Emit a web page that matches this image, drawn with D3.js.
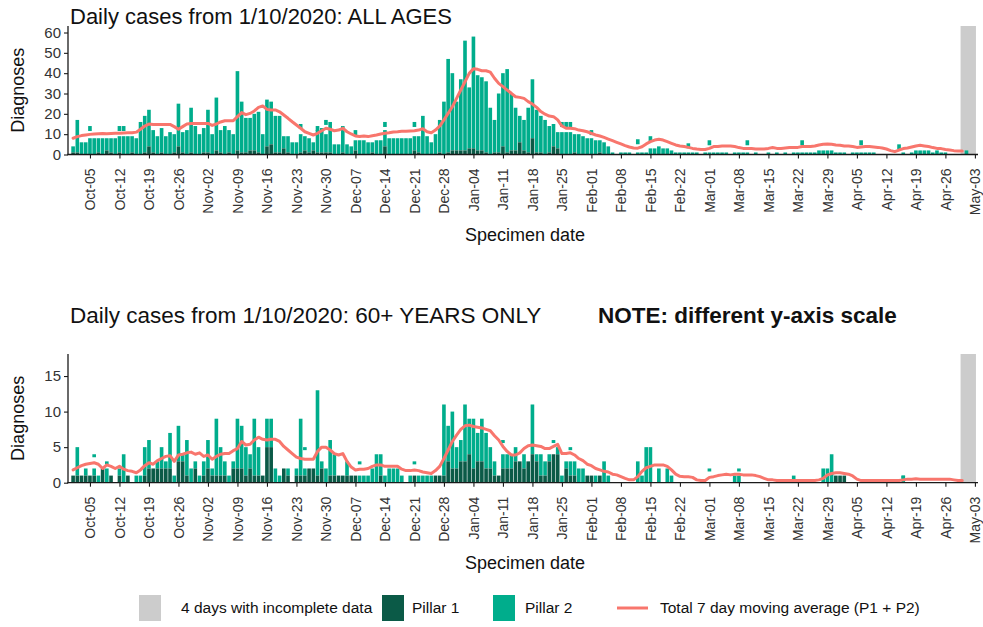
<!DOCTYPE html>
<html>
<head>
<meta charset="utf-8">
<script src="https://cdn.jsdelivr.net/npm/d3@7"></script>
<style>
  body { margin: 0; background: #fff; }
  text { font-family: "Liberation Sans", Arial, sans-serif; }
</style>
</head>
<body>
<div id="chart"></div>
<script>
// ---- data: one value per day starting 1 Oct 2020 ----
var firstDay = new Date(Date.UTC(2020, 9, 1));

// ALL AGES: Pillar 1 and total (Pillar 1 + Pillar 2)
var allP1 = [
  1,1,0,0,0,0,1,0,2,1,0,1,0,0,1,0,0,1,4,1,0,1,0,0,1,4,1,0,1,0,0,
  1,1,0,2,1,0,1,0,2,1,1,2,2,1,0,4,5,1,1,3,1,0,0,1,2,1,2,1,1,1,
  1,0,0,1,0,0,2,0,0,0,1,0,0,4,0,0,0,0,0,0,2,1,0,0,0,0,1,0,1,2,2,
  2,2,3,3,2,2,1,0,1,1,4,1,2,2,6,2,1,8,1,1,0,1,4,3,0,0,0,1,0,0,0,
  0,0,1,0,0,0,0,0,0,0,0,0,0,0,0,0,0,0,0,0,0,0,0,0,0,0,0,0,
  0,0,0,0,0,0,0,0,0,0,0,0,0,0,0,0,0,0,0,0,0,0,0,0,0,0,0,0,0,0,0,
  0,0,0,0,0,0,0,0,0,0,0,0,0,0,0,0,0,0,0,0,0,0,0,0,0,0,0,0,0,0,
  0
];
var allTotal = [
  4,17,6,6,8,8,8,8,8,8,8,9,9,9,9,8,16,19,22,12,9,13,9,11,10,25,11,12,23,14,10,
  13,22,10,28,12,14,12,10,41,26,18,18,20,21,10,27,26,19,19,9,9,6,6,10,9,8,6,12,13,10,
  16,5,5,14,5,4,7,7,7,6,6,7,7,12,8,8,8,8,8,8,9,9,19,9,6,10,17,26,47,40,26,
  37,56,33,58,39,38,36,23,17,30,40,42,30,23,19,17,23,37,22,19,17,14,15,11,11,11,11,10,10,9,8,
  8,7,7,6,4,1,0,1,1,1,0,1,1,1,3,3,4,3,3,2,1,1,1,1,1,1,0,1,
  1,1,1,1,1,0,1,1,1,1,0,1,0,0,1,0,1,0,1,0,1,1,1,1,1,1,2,2,2,2,1,
  1,1,0,1,1,1,1,1,1,0,0,0,0,0,0,1,0,1,2,2,2,2,1,2,1,1,0,0,0,0,
  2
];
var allMA = [
  8.0,8.8,9.3,9.6,9.9,10.1,10.2,10.3,10.2,10.3,10.4,10.4,10.6,10.7,10.7,11.0,12.4,14.0,15.0,14.8,14.8,14.8,14.8,14.8,13.7,12.4,13.7,15.0,15.3,15.3,15.3,
  15.3,15.3,14.3,15.0,16.0,16.6,16.6,16.6,18.6,20.6,19.6,20.2,21.4,23.2,23.9,22.2,21.9,21.9,21.0,19.4,17.8,16.1,14.5,12.9,11.2,10.4,9.6,10.4,11.7,12.9,
  12.4,11.7,12.0,12.9,11.2,10.1,9.1,8.8,9.1,8.8,9.2,9.6,10.1,10.4,10.7,11.1,11.2,11.4,11.4,11.6,11.7,12.0,12.7,11.2,10.7,12.0,14.0,17.0,20.2,23.5,27.6,
  31.7,35.8,39.9,42.2,41.9,41.2,41.2,40.5,37.5,35.0,33.4,31.7,30.1,28.4,28.1,27.6,26.0,24.8,23.2,21.1,19.8,18.9,18.6,17.0,14.0,12.9,12.9,12.7,12.0,11.7,11.2,
  10.4,9.6,9.1,8.4,7.6,6.8,6.0,5.2,4.4,3.7,3.2,3.1,3.8,5.2,6.3,7.1,7.5,7.1,6.3,5.5,4.7,4.2,3.9,3.5,3.0,2.7,2.5,2.5,
  3.0,3.9,3.9,4.2,4.2,4.2,3.9,3.4,3.0,3.0,2.9,2.7,2.7,2.7,3.0,3.4,3.0,3.0,3.2,3.4,3.4,3.5,3.9,3.9,3.9,4.2,4.7,5.0,5.2,5.0,4.7,
  4.5,4.2,4.2,3.9,3.5,3.7,3.9,3.9,3.7,3.5,3.2,2.7,1.9,1.4,2.2,2.9,3.2,3.7,4.2,4.5,4.2,3.9,3.4,3.0,2.9,2.5,2.2,1.9,1.7,1.7
];
var allUpper = [
  ['2020-10-05',14],['2020-10-12',14],['2020-10-13',14],['2020-11-24',15],['2020-11-28',14],
  ['2020-11-30',17],['2020-12-07',12],['2020-12-14',16],['2020-12-21',16],['2021-01-25',16],
  ['2021-01-26',16],['2021-01-27',16],['2021-02-01',12],['2021-02-12',7.5],['2021-02-15',9],
  ['2021-02-24',5.5],['2021-03-01',7],['2021-03-10',7],['2021-03-23',7],['2021-04-06',7],['2021-04-15',5]
];

// 60+ YEARS ONLY
var oldP1 = [
  1,1,1,1,1,1,0,2,0,1,0,1,0,1,0,0,0,1,2,2,2,2,2,2,0,3,3,1,0,2,0,
  1,2,1,1,1,1,0,2,2,2,1,2,1,1,1,5,5,0,0,2,1,0,1,1,1,2,2,1,2,0,
  1,1,1,1,1,1,1,0,0,0,0,0,1,0,0,0,0,0,0,0,1,0,0,0,0,1,1,1,3,2,2,
  3,3,4,2,3,3,2,2,1,1,2,2,2,3,3,2,3,4,3,1,1,3,4,4,0,2,1,1,0,0,1,
  1,0,1,0,0,0,0,0,0,0,0,0,0,0,0,0,0,0,0,0,0,0,0,0,0,0,0,0,
  0,0,0,0,0,0,0,0,0,0,0,0,0,0,0,0,0,0,0,0,0,0,0,0,0,0,0,0,0,0,1,
  1,1,0,0,0,0,0,0,0,0,0,0,0,0,0,0,0,0,0,0,0,0,0,0,0,0,0,0,0,0,
  0
];
var oldTotal = [
  1,5,1,2,1,2,1,2,2,1,0,2,4,1,0,1,1,5,6,2,3,5,3,7,1,8,4,6,2,3,1,
  3,6,2,9,5,3,1,3,9,8,5,4,9,5,1,9,9,2,1,2,2,0,2,9,2,2,2,13,3,2,
  6,4,1,1,3,1,1,1,1,1,2,4,4,1,2,2,2,1,0,1,1,1,1,1,1,1,1,11,8,10,5,
  6,11,9,9,7,9,7,5,3,1,4,4,4,5,3,4,3,11,4,4,3,4,4,5,1,3,3,3,2,2,1,
  1,1,1,3,1,0,0,0,0,0,0,3,1,5,5,0,2,0,2,1,0,0,0,0,0,0,0,0,
  0,0,0,0,0,0,1,1,0,0,0,0,0,0,0,0,0,0,0,0,1,0,0,0,0,0,0,2,2,4,1,
  1,1,0,0,0,0,0,0,0,0,0,0,0,0,0,1,0,0,0,0,0,0,0,0,0,0,0,0,0,0,
  0
];
var oldMA = [
  1.8,2.1,2.4,2.6,2.7,2.8,2.6,2.0,2.5,2.3,2.0,2.3,1.9,1.7,1.6,1.4,1.8,2.4,2.8,2.6,3.1,3.4,3.7,3.8,3.0,3.9,4.0,4.2,4.3,4.0,4.2,
  3.7,3.9,3.3,3.7,4.0,4.1,4.1,4.5,4.8,5.8,5.3,5.4,6.0,6.4,6.1,6.0,6.1,6.1,5.8,5.1,4.6,4.1,3.6,3.4,3.3,3.3,3.3,4.4,5.0,5.0,
  4.6,4.1,3.9,4.1,3.0,2.2,1.8,1.9,1.9,2.0,2.3,2.5,2.5,2.3,2.3,2.3,2.3,1.9,1.7,1.7,1.8,1.7,1.5,1.4,1.3,1.7,2.3,3.4,4.6,5.8,6.7,
  7.5,8.0,8.1,7.9,7.8,7.7,7.5,7.3,6.6,6.0,5.1,4.4,3.9,3.9,4.2,4.8,5.2,5.3,5.2,5.1,4.8,4.8,5.1,5.4,4.1,4.1,4.2,3.9,3.4,3.1,2.6,
  2.4,2.0,1.8,1.6,1.5,1.2,1.1,0.85,0.6,0.4,0.4,0.85,1.6,2.1,2.3,2.5,2.5,2.5,2.3,1.8,1.2,0.9,0.85,0.85,0.75,0.4,0.3,0.3,
  0.75,0.85,1.0,1.1,1.2,1.1,1.2,1.2,1.1,1.1,1.1,1.0,0.85,0.6,0.4,0.4,0.3,0.3,0.3,0.3,0.3,0.3,0.3,0.3,0.3,0.3,0.4,0.6,1.1,1.3,1.4,
  1.4,1.3,1.2,0.95,0.5,0.3,0.3,0.3,0.3,0.3,0.3,0.3,0.3,0.3,0.3,0.4,0.5,0.5,0.55,0.5,0.5,0.5,0.5,0.5,0.5,0.5,0.5,0.4,0.3,0.3
];
var oldUpper = [
  ['2020-10-06',4],['2020-10-09',3],['2020-11-25',5],['2020-12-08',3],['2020-12-21',3],
  ['2021-01-11',6],['2021-01-23',6],['2021-01-27',5],['2021-03-01',2],['2021-03-08',2],['2021-04-16',1]
];

var incompleteDays = ['2021-04-30', '2021-05-03'];
var legendLabels = ['4 days with incomplete data', 'Pillar 1', 'Pillar 2', 'Total 7 day moving average (P1 + P2)'];

// ---- setup ----
var W = 983, H = 627;
var col = { p1: '#0b5a47', p2: '#00ad8c', ma: '#f8766d', grey: '#cccccc', axis: '#1a1a1a', tick: '#333' };
var parse = d3.utcParse('%Y-%m-%d');
var fmt = d3.utcFormat('%b-%d');

var x = d3.scaleUtc()
  .domain([firstDay, parse('2021-05-03')])
  .range([73.1, 974.9]);
var dayW = x(d3.utcDay.offset(firstDay, 1)) - x(firstDay);
var barW = dayW * 0.86;
var mondays = d3.utcMonday.range(parse('2020-10-05'), parse('2021-05-04'));

var svg = d3.select('#chart').append('svg')
    .attr('width', W)
    .attr('height', H);

function dayOf(i) { return d3.utcDay.offset(firstDay, i); }

function drawPanel(p) {
  var y = d3.scaleLinear().domain([0, p.ymax]).range([p.bottom, p.top]);
  var g = svg.append('g');

  // grey block for the incomplete days
  var gx0 = x(parse(incompleteDays[0])) - dayW * 0.4,
      gx1 = x(parse(incompleteDays[1])) + dayW * 0.25;
  g.append('rect')
      .attr('x', gx0)
      .attr('width', gx1 - gx0)
      .attr('y', p.top)
      .attr('height', p.bottom - p.top)
      .attr('fill', col.grey);

  var days = p.total.map(function(v, i) { return { date: dayOf(i), p1: p.p1[i], total: v }; });

  g.selectAll('rect.p2').data(days).enter().append('rect')
      .attr('class', 'p2')
      .attr('x', function(d) { return x(d.date) - barW / 2; })
      .attr('width', barW)
      .attr('y', function(d) { return y(d.total); })
      .attr('height', function(d) { return y(d.p1) - y(d.total); })
      .attr('fill', col.p2);

  g.selectAll('rect.p1').data(days).enter().append('rect')
      .attr('class', 'p1')
      .attr('x', function(d) { return x(d.date) - barW / 2; })
      .attr('width', barW)
      .attr('y', function(d) { return y(d.p1); })
      .attr('height', function(d) { return y(0) - y(d.p1); })
      .attr('fill', col.p1);

  // short floating segments above some bars
  g.selectAll('rect.upper').data(p.upper).enter().append('rect')
      .attr('class', 'upper')
      .attr('x', function(d) { return x(parse(d[0])) - barW / 2; })
      .attr('width', barW)
      .attr('y', function(d) { return y(d[1]); })
      .attr('height', p.dashH)
      .attr('fill', col.p2);

  var line = d3.line()
      .x(function(d, i) { return x(dayOf(i)); })
      .y(function(d) { return y(d); });
  g.append('path')
      .datum(p.ma)
      .attr('d', line)
      .attr('fill', 'none')
      .attr('stroke', col.ma)
      .attr('stroke-width', 3)
      .attr('stroke-linejoin', 'round')
      .attr('stroke-linecap', 'round');

  // y axis
  var ya = g.append('g')
      .attr('transform', 'translate(68,0)')
      .call(d3.axisLeft(y).tickValues(p.yticks).tickSize(4).tickSizeOuter(0).tickPadding(3));
  ya.select('.domain').remove();
  ya.selectAll('line').attr('stroke', col.axis).attr('stroke-width', 1.1);
  ya.selectAll('text').attr('fill', col.tick).style('font-size', '15px');
  g.append('line')
      .attr('x1', 68).attr('x2', 68)
      .attr('y1', p.top).attr('y2', p.bottom + 0.5)
      .attr('stroke', col.axis).attr('stroke-width', 1.3);

  // x axis
  var xa = g.append('g')
      .attr('transform', 'translate(0,' + p.bottom + ')')
      .call(d3.axisBottom(x).tickValues(mondays).tickFormat(fmt).tickSize(4).tickSizeOuter(0));
  xa.select('.domain').remove();
  xa.selectAll('line').attr('stroke', col.axis).attr('stroke-width', 1.1);
  xa.selectAll('text')
      .attr('transform', 'rotate(-90)')
      .attr('text-anchor', 'end')
      .attr('x', -14)
      .attr('y', 0)
      .attr('dy', '0.35em')
      .attr('fill', col.tick)
      .style('font-size', '14px');
  g.append('line')
      .attr('x1', 67.4).attr('x2', 978)
      .attr('y1', p.bottom).attr('y2', p.bottom)
      .attr('stroke', col.axis).attr('stroke-width', 1.3);

  g.append('text')
      .attr('x', 525).attr('y', p.bottom + 86)
      .attr('text-anchor', 'middle')
      .style('font-size', '18px')
      .attr('fill', '#111')
      .text('Specimen date');

  g.append('text')
      .attr('transform', 'translate(24,' + ((p.top + p.bottom) / 2) + ') rotate(-90)')
      .attr('text-anchor', 'middle')
      .style('font-size', '18px')
      .attr('fill', '#111')
      .text('Diagnoses');

  g.append('text')
      .attr('x', 70).attr('y', p.titleY)
      .style('font-size', p.titleSize)
      .attr('fill', '#111')
      .text(p.title);
}

drawPanel({ top: 26, bottom: 154.5, ymax: 63.2, yticks: [0,10,20,30,40,50,60],
  p1: allP1, total: allTotal, ma: allMA, upper: allUpper, dashH: 5,
  title: 'Daily cases from 1/10/2020: ALL AGES', titleY: 24, titleSize: '22px' });

drawPanel({ top: 354, bottom: 482.7, ymax: 18.1, yticks: [0,5,10,15],
  p1: oldP1, total: oldTotal, ma: oldMA, upper: oldUpper, dashH: 3,
  title: 'Daily cases from 1/10/2020: 60+ YEARS ONLY', titleY: 323, titleSize: '22.5px' });

svg.append('text')
    .attr('x', 598).attr('y', 323)
    .style('font-size', '22.5px')
    .style('font-weight', 'bold')
    .attr('fill', '#111')
    .text('NOTE: different y-axis scale');

// ---- legend ----
var lg = svg.append('g').attr('transform', 'translate(0,595)');
var items = [
  { kind: 'box', fill: col.grey, bx: 139, tx: 181 },
  { kind: 'box', fill: col.p1, bx: 382, tx: 412 },
  { kind: 'box', fill: col.p2, bx: 493, tx: 525 },
  { kind: 'line', fill: col.ma, bx: 617, tx: 660 }
];
items.forEach(function(it, i) {
  if (it.kind === 'box') {
    lg.append('rect').attr('x', it.bx).attr('y', 0).attr('width', 22).attr('height', 26).attr('fill', it.fill);
  } else {
    lg.append('line').attr('x1', it.bx).attr('x2', it.bx + 31).attr('y1', 13).attr('y2', 13)
      .attr('stroke', it.fill).attr('stroke-width', 3);
  }
  lg.append('text').attr('x', it.tx).attr('y', 18).style('font-size', '15.5px').attr('fill', '#111').text(legendLabels[i]);
});
</script>
</body>
</html>
